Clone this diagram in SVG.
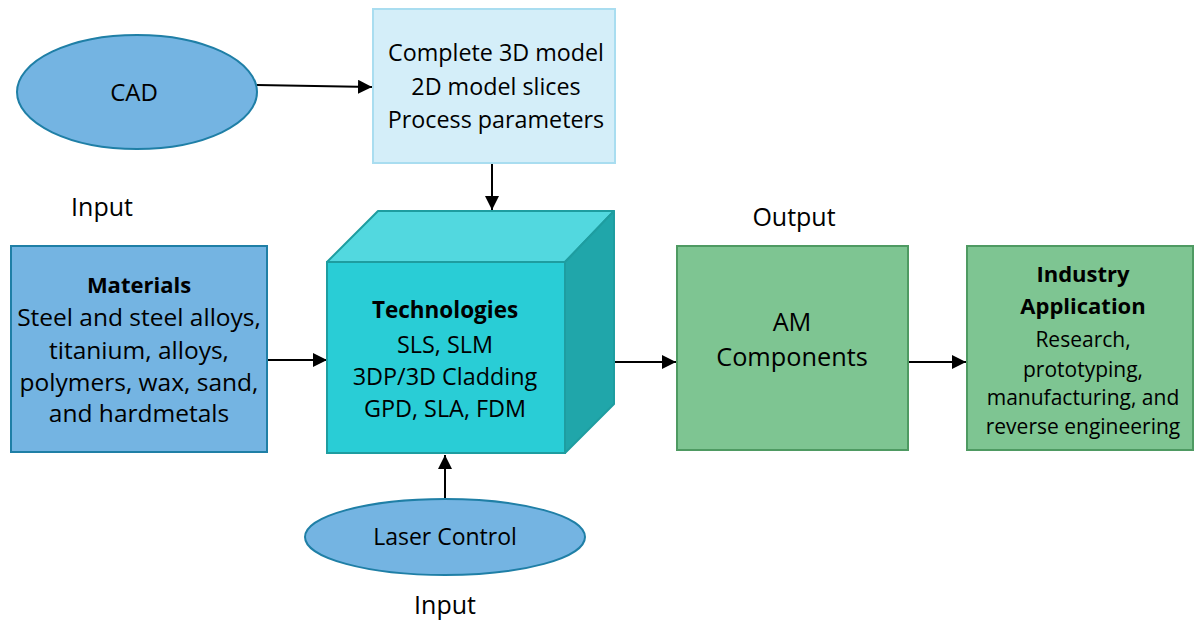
<svg xmlns="http://www.w3.org/2000/svg" width="1194" height="621" viewBox="0 0 1194 621">
<style>
text{font-family:"Open Sans","Liberation Sans",sans-serif;font-size:22px;fill:#000;text-anchor:middle}
.b{font-weight:bold}
.lab{font-size:25px}
.con{stroke:#000;stroke-width:2;fill:none;marker-end:url(#ah)}
</style>
<defs>
<marker id="ah" viewBox="0 0 10 10" refX="10" refY="5" markerWidth="7" markerHeight="7" orient="auto" markerUnits="strokeWidth">
<path d="M0,0 L10,5 L0,10 Z" fill="#000"/>
</marker>
</defs>
<rect width="1194" height="621" fill="#fff"/>
<g id="connectors">
<path class="con" d="M257,85 L372,87"/>
<path class="con" d="M492,163 L492,210"/>
<path class="con" d="M267,360 L327,360"/>
<path class="con" d="M614,362 L676,362"/>
<path class="con" d="M905,362 L966,362"/>
<path class="con" d="M445,498 L445,455"/>
</g>
<g id="cad">
<ellipse cx="137" cy="92" rx="120" ry="57" fill="#74B4E2" stroke="#1F7FA6" stroke-width="2"/>
<text x="134" y="101" style="font-size:24px">CAD</text>
</g>
<g id="model">
<rect x="373" y="9" width="242" height="154" fill="#D4EEF9" stroke="#A9DDF0" stroke-width="2"/>
<text x="496" y="61" style="font-size:23.3px">Complete 3D model</text>
<text x="496" y="95" style="font-size:23.3px">2D model slices</text>
<text x="496" y="128" style="font-size:23.3px">Process parameters</text>
</g>
<g id="labels">
<text class="lab" x="102" y="216">Input</text>
<text class="lab" x="794" y="226">Output</text>
<text class="lab" x="445" y="614">Input</text>
</g>
<g id="materials">
<rect x="11" y="246" width="256" height="206" fill="#74B4E2" stroke="#1F7FA6" stroke-width="2"/>
<text class="b" x="139" y="293" style="font-size:22px">Materials</text>
<text x="139" y="326" style="font-size:24.5px">Steel and steel alloys,</text>
<text x="139" y="359" style="font-size:24.5px">titanium, alloys,</text>
<text x="139" y="391" style="font-size:24.5px">polymers, wax, sand,</text>
<text x="139" y="422" style="font-size:24.5px">and hardmetals</text>
</g>
<g id="technologies">
<polygon points="327,262 378,211 614,211 565,262" fill="#52D8DF" stroke="#1E9DA0" stroke-width="2" stroke-linejoin="round"/>
<polygon points="565,262 614,211 614,404 565,453" fill="#20A6AA" stroke="#1E9DA0" stroke-width="2" stroke-linejoin="round"/>
<rect x="327" y="262" width="238" height="191" fill="#29CDD6" stroke="#1E9DA0" stroke-width="2"/>
<text class="b" x="445" y="318" style="font-size:22.5px">Technologies</text>
<text x="445" y="353" style="font-size:23.4px">SLS, SLM</text>
<text x="445" y="385" style="font-size:23.4px">3DP/3D Cladding</text>
<text x="445" y="417" style="font-size:23.4px">GPD, SLA, FDM</text>
</g>
<g id="am">
<rect x="677" y="246" width="231" height="204" fill="#7EC592" stroke="#4E9A62" stroke-width="2"/>
<text x="792" y="331" style="font-size:25.3px">AM</text>
<text x="792" y="366" style="font-size:25.3px">Components</text>
</g>
<g id="industry">
<rect x="967" y="246" width="226" height="204" fill="#7EC592" stroke="#4E9A62" stroke-width="2"/>
<text class="b" x="1083" y="282">Industry</text>
<text class="b" x="1083" y="314">Application</text>
<text x="1083" y="347" style="font-size:21px">Research,</text>
<text x="1083" y="377" style="font-size:21px">prototyping,</text>
<text x="1083" y="405" style="font-size:21px">manufacturing, and</text>
<text x="1083" y="434" style="font-size:21px">reverse engineering</text>
</g>
<g id="laser">
<ellipse cx="445" cy="537" rx="140" ry="38" fill="#74B4E2" stroke="#1F7FA6" stroke-width="2"/>
<text x="445" y="545" style="font-size:23px">Laser Control</text>
</g>
</svg>
